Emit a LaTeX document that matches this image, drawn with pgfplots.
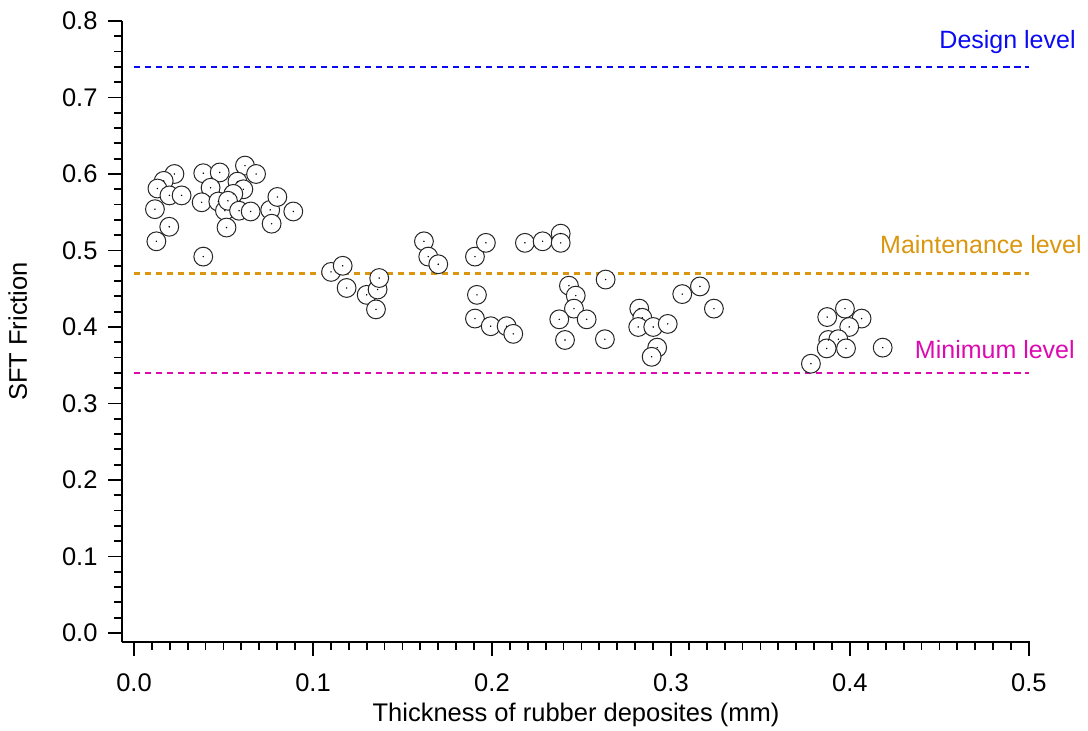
\documentclass[border=0pt]{standalone}
\usepackage{pgfplots}
\pgfplotsset{compat=1.18}
\usepackage{pgfplotstable}
\usepackage{fontspec}
\setmainfont{Liberation Sans}
\definecolor{designblue}{RGB}{10,10,245}
\definecolor{maintorange}{RGB}{218,150,15}
\definecolor{minmagenta}{RGB}{220,10,175}
\pgfplotstableread{
x y
0.0226 0.600
0.0166 0.591
0.0131 0.581
0.0198 0.572
0.0266 0.572
0.0117 0.554
0.0197 0.531
0.0125 0.512
0.0387 0.601
0.0479 0.602
0.0428 0.582
0.0378 0.563
0.0471 0.564
0.0508 0.552
0.0517 0.530
0.0387 0.492
0.0620 0.611
0.0682 0.600
0.0578 0.590
0.0611 0.580
0.0555 0.574
0.0525 0.565
0.0587 0.552
0.0652 0.551
0.0761 0.553
0.0801 0.570
0.0769 0.535
0.0890 0.551
0.1101 0.472
0.1166 0.480
0.1188 0.451
0.1300 0.442
0.1361 0.449
0.1370 0.464
0.1352 0.423
0.1620 0.512
0.1644 0.492
0.1700 0.482
0.1905 0.492
0.1966 0.510
0.1916 0.442
0.1905 0.411
0.1993 0.401
0.2082 0.401
0.2119 0.391
0.2184 0.510
0.2283 0.512
0.2384 0.522
0.2384 0.510
0.2430 0.454
0.2468 0.441
0.2458 0.424
0.2376 0.410
0.2529 0.410
0.2408 0.383
0.2631 0.384
0.2635 0.462
0.3063 0.443
0.3162 0.453
0.3240 0.424
0.2823 0.424
0.2840 0.412
0.2817 0.400
0.2901 0.400
0.2982 0.404
0.2923 0.373
0.2892 0.361
0.3873 0.413
0.3972 0.424
0.4065 0.411
0.3996 0.400
0.3879 0.383
0.3935 0.384
0.3870 0.372
0.3978 0.372
0.4183 0.373
0.3782 0.352
}\sfttable
\begin{document}
\begin{tikzpicture}
\begin{axis}[
  scale only axis,
  width=908bp, height=621bp,
  xmin=-0.0067, xmax=0.5006,
  ymin=-0.0118, ymax=0.8,
  axis x line*=bottom, axis y line*=left,
  axis line style={line width=1.8bp, black, -},
  xtick={0,0.1,0.2,0.3,0.4,0.5},
  ytick={0,0.1,0.2,0.3,0.4,0.5,0.6,0.7,0.8},
  minor x tick num=9, minor y tick num=4,
  tick align=outside,
  major tick length=14bp, minor tick length=8bp,
  every tick/.style={line width=1.8bp, black},
  xticklabel style={/pgf/number format/fixed, /pgf/number format/precision=1, /pgf/number format/fixed zerofill, yshift=-14bp},
  yticklabel style={/pgf/number format/fixed, /pgf/number format/precision=1, /pgf/number format/fixed zerofill, xshift=-7bp},
  /pgf/number format/assume math mode=true,
  tick label style={font=\fontsize{25.5bp}{30bp}\selectfont},
  label style={font=\fontsize{25.5bp}{30bp}\selectfont},
  xlabel={Thickness of rubber deposites (mm)},
  ylabel={SFT Friction},
  xlabel style={yshift=-5bp},
  ylabel style={yshift=28bp},
  clip=false,
]
\addplot[designblue, line width=2.6bp, dash pattern=on 6.5bp off 4.5bp] coordinates {(0,0.74) (0.5,0.74)};
\addplot[maintorange, line width=2.6bp, dash pattern=on 6.5bp off 4.5bp] coordinates {(0,0.47) (0.5,0.47)};
\addplot[minmagenta, line width=2.6bp, dash pattern=on 6.5bp off 4.5bp] coordinates {(0,0.34) (0.5,0.34)};
\addplot[only marks, mark=*, mark size=9.4bp, mark options={fill=white, draw=black!85, line width=1bp}] table[x=x,y=y] {\sfttable};
\addplot[only marks, mark=*, mark size=0.5bp, mark options={fill=black!55, draw=none}] table[x=x,y=y] {\sfttable};
\node[anchor=base east, text=designblue, font=\fontsize{25bp}{30bp}\selectfont, inner sep=0pt] at (axis cs:0.5262,0.7643) {Design level};
\node[anchor=base east, text=maintorange, font=\fontsize{25bp}{30bp}\selectfont, inner sep=0pt] at (axis cs:0.5296,0.4967) {Maintenance level};
\node[anchor=base east, text=minmagenta, font=\fontsize{25bp}{30bp}\selectfont, inner sep=0pt] at (axis cs:0.5257,0.359) {Minimum level};
\end{axis}
\pgfresetboundingbox
\path ([shift={(-122bp,-89bp)}]current axis.south west) rectangle ++(1088bp,731bp);
\end{tikzpicture}
\end{document}
